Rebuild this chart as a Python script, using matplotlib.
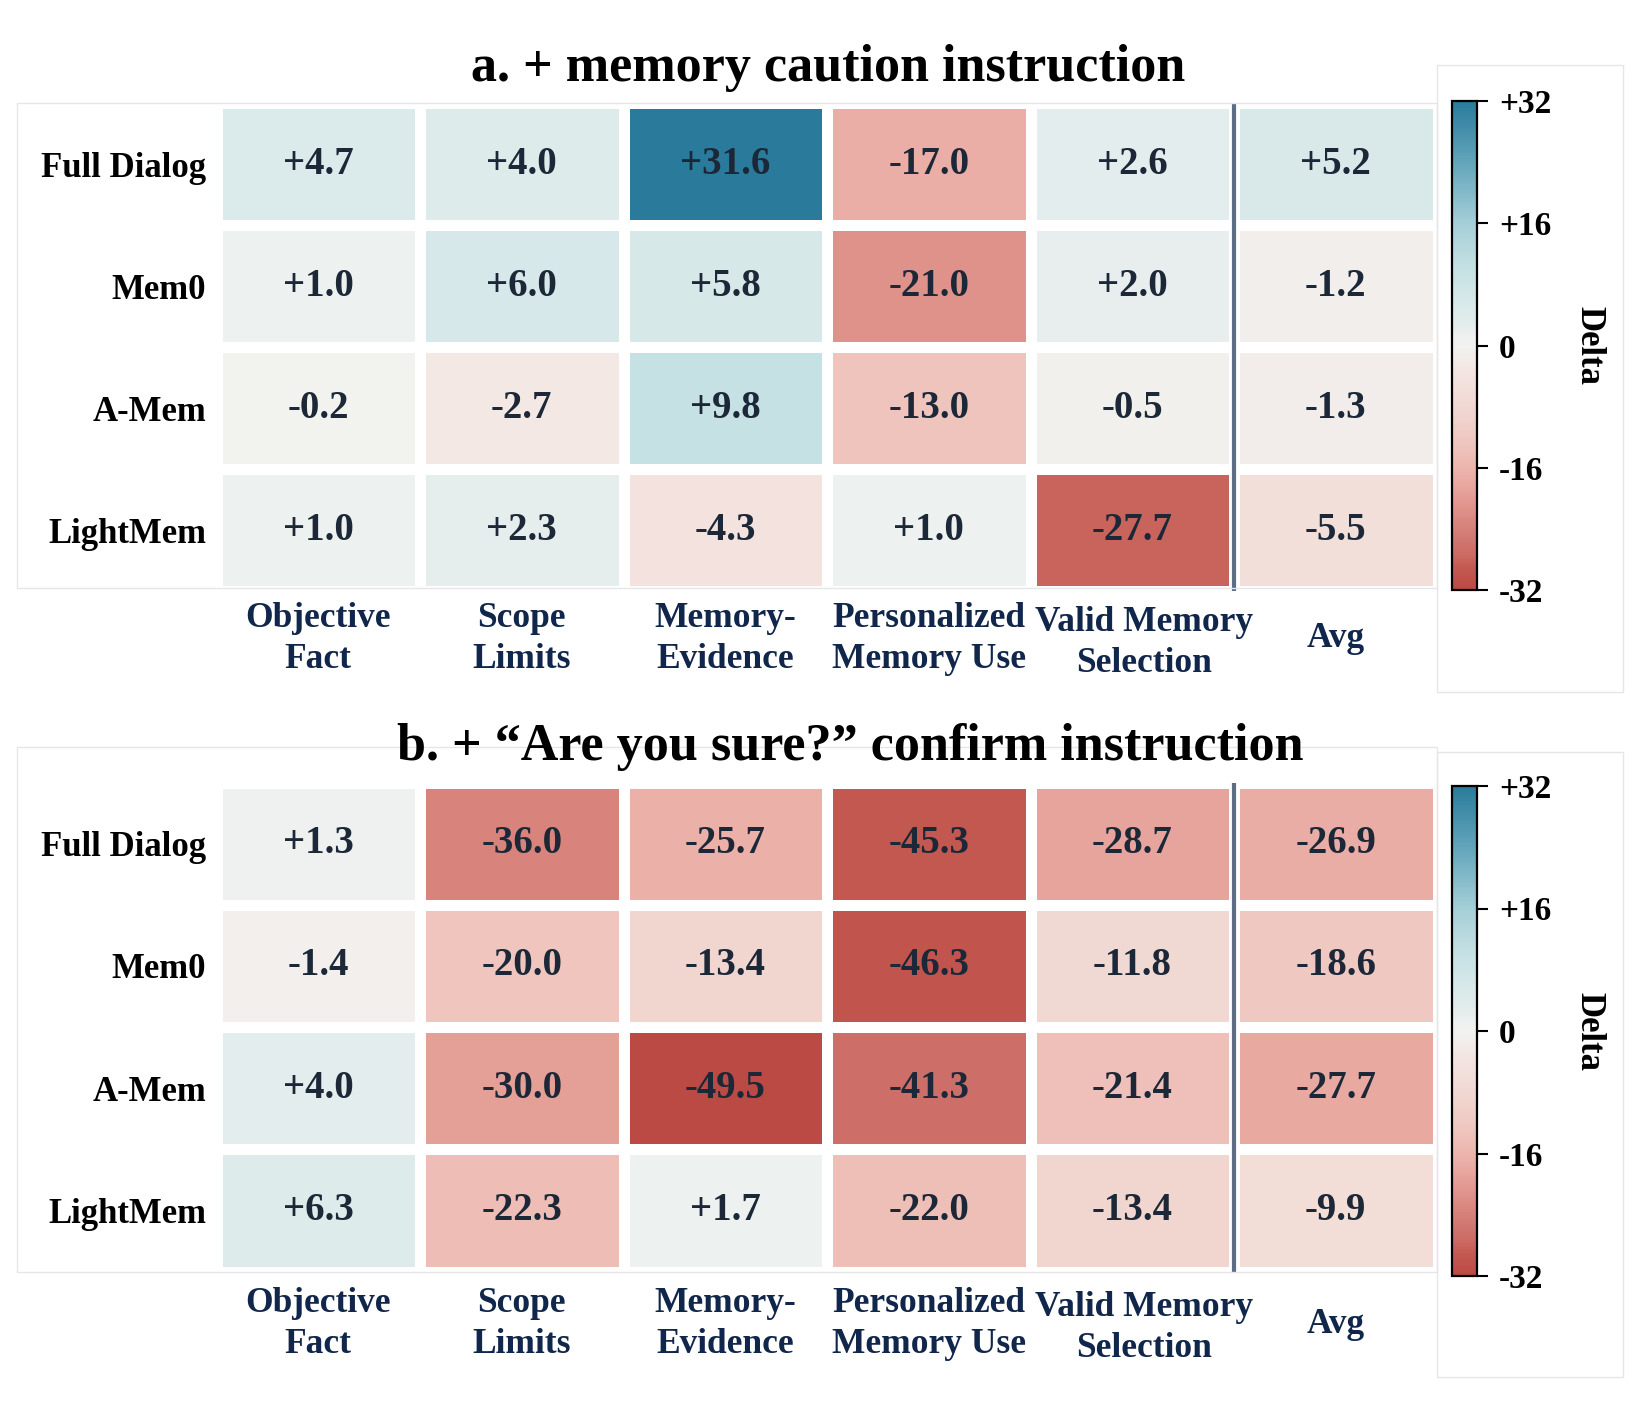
import numpy as np
import matplotlib
matplotlib.use("Agg")
import matplotlib.pyplot as plt
import matplotlib.transforms as mtransforms
from matplotlib.colors import LinearSegmentedColormap, Normalize
from matplotlib.cm import ScalarMappable
from matplotlib.patches import Rectangle

# -----------------------------
# Data
# -----------------------------
rows = ["Full Dialog", "Mem0", "A-Mem", "LightMem"]
cols = ["Objective\nFact", "Scope\nLimits", "Memory-\nEvidence",
        "Personalized\nMemory Use", "Valid Memory\nSelection", "Avg"]

# a. + memory caution instruction
delta_caution = [
    [4.7, 4.0, 31.6, -17.0, 2.6, 5.2],
    [1.0, 6.0, 5.8, -21.0, 2.0, -1.2],
    [-0.2, -2.7, 9.8, -13.0, -0.5, -1.3],
    [1.0, 2.3, -4.3, 1.0, -27.7, -5.5],
]
# b. + "Are you sure?" confirm instruction
delta_confirm = [
    [1.3, -36.0, -25.7, -45.3, -28.7, -26.9],
    [-1.4, -20.0, -13.4, -46.3, -11.8, -18.6],
    [4.0, -30.0, -49.5, -41.3, -21.4, -27.7],
    [6.3, -22.3, 1.7, -22.0, -13.4, -9.9],
]

titles = ["a. + memory caution instruction",
          "b. + \u201cAre you sure?\u201d confirm instruction"]
cbar_ticks = [-32, -16, 0, 16, 32]
cbar_labels = ["-32", "-16", "0", "+16", "+32"]

# -----------------------------
# Style
# -----------------------------
plt.rcParams['font.family'] = ['Liberation Serif', 'DejaVu Serif']
plt.rcParams['font.weight'] = 'bold'

stops = [
    (0.000, "#bb4a44"), (0.045, "#c45a52"), (0.065, "#cb6860"),
    (0.100, "#d07670"), (0.170, "#e0948c"), (0.235, "#ebb0a8"),
    (0.300, "#efc6bf"), (0.365, "#f1d6d0"), (0.450, "#f3e6e2"),
    (0.500, "#f2f2f0"), (0.515, "#eef1ef"), (0.550, "#e1ecec"),
    (0.595, "#d6e8e9"), (0.655, "#c6e1e4"), (0.750, "#a5cfd7"),
    (0.875, "#63a5bb"), (1.000, "#2a7b9b"),
]
cmap = LinearSegmentedColormap.from_list("delta", stops)

W, H = 1638, 1407
fig = plt.figure(figsize=(W / 100, H / 100), dpi=100)


def fbox(x0, y0, x1, y1):
    # pixel box (top-left origin) -> figure fraction [left, bottom, w, h]
    return [x0 / W, 1 - y1 / H, (x1 - x0) / W, (y1 - y0) / H]


layout = [
    dict(heat=(216.5, 103.5, 1437.5, 591.5), cbar=(1452, 101, 1477, 590),
         title=(828, 81), frames=[(17, 103, 1437, 588), (1437, 65, 1623, 692)],
         xpad=34),
    dict(heat=(216.5, 782.5, 1437.5, 1271.5), cbar=(1452, 786, 1477, 1276),
         title=(850, 760), frames=[(17, 747, 1437, 1272), (1437, 752, 1623, 1377)],
         xpad=38),
]

for data, title, lay in zip([delta_caution, delta_confirm], titles, layout):
    vals = np.array(data)
    vmax = np.abs(vals).max()
    norm = Normalize(-vmax, vmax)

    ax = fig.add_axes(fbox(*lay["heat"]))
    ax.patch.set_visible(False)
    ax.pcolormesh(vals, cmap=cmap, norm=norm, edgecolors="white", linewidth=6.5)
    ax.set_xlim(0, vals.shape[1])
    ax.set_ylim(vals.shape[0], 0)
    for i in range(vals.shape[0]):
        for j in range(vals.shape[1]):
            ax.text(j + 0.5, i + 0.5, f"{vals[i, j]:+.1f}", ha="center", va="center",
                    fontsize=28, color="#1c2837", fontweight="bold")
    ax.axvline(5, color="#5d6d87", lw=3, zorder=4)

    ax.set_xticks(np.arange(len(cols)) + 0.5)
    ax.set_xticklabels(cols, fontsize=25.5, color="#10264a", va="center",
                       multialignment="center", linespacing=1.32)
    ax.set_yticks(np.arange(len(rows)) + 0.5)
    ax.set_yticklabels(rows, fontsize=25, color="black")
    ax.tick_params(axis="x", length=0, pad=lay["xpad"])
    ax.tick_params(axis="y", length=0, pad=7.5)
    for s in ax.spines.values():
        s.set_visible(False)
    # the "Valid Memory" label sits a little to the right and lower
    lbl = ax.get_xticklabels()[4]
    lbl.set_transform(lbl.get_transform() +
                      mtransforms.ScaledTranslation(0.12, -0.04, fig.dpi_scale_trans))

    # faint panel frames
    for (x0, y0, x1, y1) in lay["frames"]:
        l, b, w, h = fbox(x0, y0, x1, y1)
        fig.add_artist(Rectangle((l, b), w, h, transform=fig.transFigure,
                                 fill=False, ec="#e6e6e6", lw=1, zorder=5))

    # title
    tx, ty = lay["title"]
    fig.text(tx / W, 1 - ty / H, title, ha="center", va="baseline",
             fontsize=37.5, fontweight="bold", zorder=6)

    # colorbar
    cax = fig.add_axes(fbox(*lay["cbar"]))
    sm = ScalarMappable(norm=Normalize(-32, 32), cmap=cmap)
    cb = fig.colorbar(sm, cax=cax)
    cb.set_ticks(cbar_ticks, labels=cbar_labels)
    cb.outline.set_linewidth(1.6)
    cax.tick_params(length=8, width=1.5, labelsize=24, pad=8)
    cy = (lay["cbar"][1] + lay["cbar"][3]) / 2
    fig.text(1589 / W, 1 - cy / H, "Delta", rotation=270, ha="center", va="center",
             fontsize=25, fontweight="bold")

fig.savefig("out.png", dpi=100)
